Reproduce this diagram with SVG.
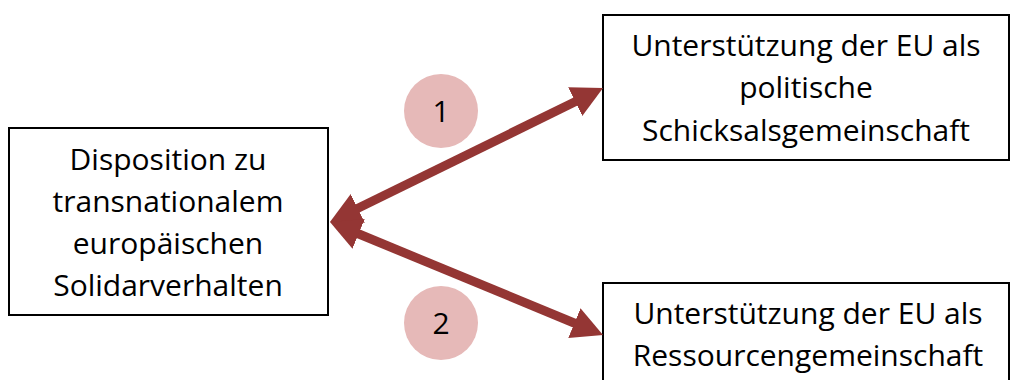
<svg xmlns="http://www.w3.org/2000/svg" width="1011" height="380" viewBox="0 0 1011 380">
<style>
.box{fill:#fff;stroke:#000;stroke-width:2}
.t{font-family:"Open Sans","Noto Sans",sans-serif;font-size:30px;fill:#000;text-anchor:middle}
.c{fill:#E6B9B8}
.ar{stroke:#943634;stroke-width:9;fill:none;marker-start:url(#ah);marker-end:url(#ah)}
</style>
<defs>
<marker id="ah" markerUnits="userSpaceOnUse" markerWidth="31" markerHeight="32" viewBox="0 0 31 32" refX="1" refY="16" orient="auto-start-reverse">
<path d="M0,0 L31,16 L0,32 z" fill="#943634"/>
</marker>
</defs>
<rect width="1011" height="380" fill="#fff"/>
<g id="left">
<rect class="box" x="9" y="128" width="319" height="187"/>
<text class="t" x="168" y="170">Disposition zu</text>
<text class="t" x="168" y="212">transnationalem</text>
<text class="t" x="168" y="254">europäischen</text>
<text class="t" x="168" y="296">Solidarverhalten</text>
</g>
<g id="top">
<rect class="box" x="603" y="15" width="406" height="145"/>
<text class="t" x="806" y="56">Unterstützung der EU als</text>
<text class="t" x="806" y="98">politische</text>
<text class="t" x="806" y="141">Schicksalsgemeinschaft</text>
</g>
<g id="bottom">
<rect class="box" x="603" y="283" width="406" height="110"/>
<text class="t" x="808" y="324">Unterstützung der EU als</text>
<text class="t" x="808" y="366">Ressourcengemeinschaft</text>
</g>
<g id="c1">
<circle class="c" cx="441" cy="111" r="37"/>
<text class="t" x="441" y="122">1</text>
</g>
<g id="c2">
<circle class="c" cx="441" cy="323" r="37"/>
<text class="t" x="441" y="334">2</text>
</g>
<g id="connectors">
<line class="ar" x1="356.9" y1="208.8" x2="576.1" y2="101.2"/>
<line class="ar" x1="357.7" y1="233.5" x2="575.3" y2="323.5"/>
</g>
</svg>
